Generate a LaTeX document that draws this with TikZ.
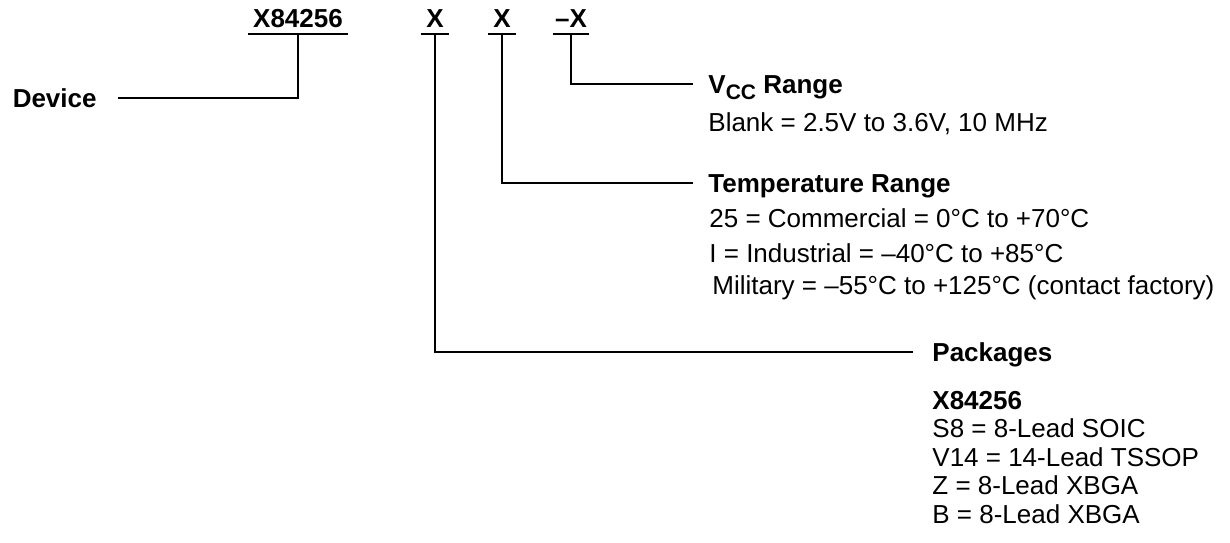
\documentclass[tikz,border=0pt]{standalone}
\usepackage{fontspec}
\setmainfont{Liberation Sans}
\usetikzlibrary{positioning}

\begin{document}
\begin{tikzpicture}[x=0.5pt, y=-0.5pt,
        part/.style={font=\fontsize{13pt}{14pt}\selectfont\bfseries, inner xsep=0pt, inner ysep=3pt, text height=9.3pt, text depth=0pt, anchor=south},
        head/.style={font=\fontsize{13pt}{14pt}\selectfont\bfseries, inner ysep=0pt, text height=9.3pt, text depth=0pt},
        body/.style={font=\fontsize{13pt}{14.25pt}\selectfont, inner sep=0pt, align=left, anchor=base west},
        line/.style={line width=0.9pt}
    ]
        \useasboundingbox (0,0) rectangle (1230,542);

        % ordering code fields
        \node[part, minimum width=50pt] (nbase) at (298,34) {X84256};
        \node[part, minimum width=14pt] (npkg) at (435,34) {X};
        \node[part, minimum width=14pt] (ntemp) at (502,34) {X};
        \node[part, minimum width=18pt] (nvcc) at (571,34) {--X};
        \foreach \n in {nbase, npkg, ntemp, nvcc}
            \draw[line] (\n.south west) -- (\n.south east);

        % headings
        \node[head, anchor=east, inner xsep=10.5pt] (device) at (118,98) {Device};
        \node[head, anchor=west, inner xsep=7.5pt] (vcc) at (693,84) {V\raisebox{-3pt}{\fontsize{10.5pt}{11pt}\selectfont CC} Range};
        \node[head, anchor=west, inner xsep=7.5pt] (temp) at (693,183) {Temperature Range};
        \node[head, anchor=west, inner xsep=9.5pt] (pkg) at (913,352) {Packages};

        % option lists (base = last line)
        \node[body] (vccnote) at (708,131) {Blank = 2.5V to 3.6V, 10 MHz};
        \node[body] (tempnote) at (709,294) {25 = Commercial = 0°C to +70°C\\[3.25pt]
            I = Industrial = --40°C to +85°C\\[1.75pt]
            \hspace{1.5pt}Military = --55°C to +125°C (contact factory)};
        \node[body] (pkgnote) at (932,523) {\textbf{X84256}\\
            S8 = 8-Lead SOIC\\
            V14 = 14-Lead TSSOP\\
            Z = 8-Lead XBGA\\
            B = 8-Lead XBGA};

        % leaders
        \draw[line] (nbase.south) |- (device.east);
        \draw[line] (npkg.south) |- (pkg.west);
        \draw[line] (ntemp.south) |- (temp.west);
        \draw[line] (nvcc.south) |- (vcc.west);
    \end{tikzpicture}
\end{document}
